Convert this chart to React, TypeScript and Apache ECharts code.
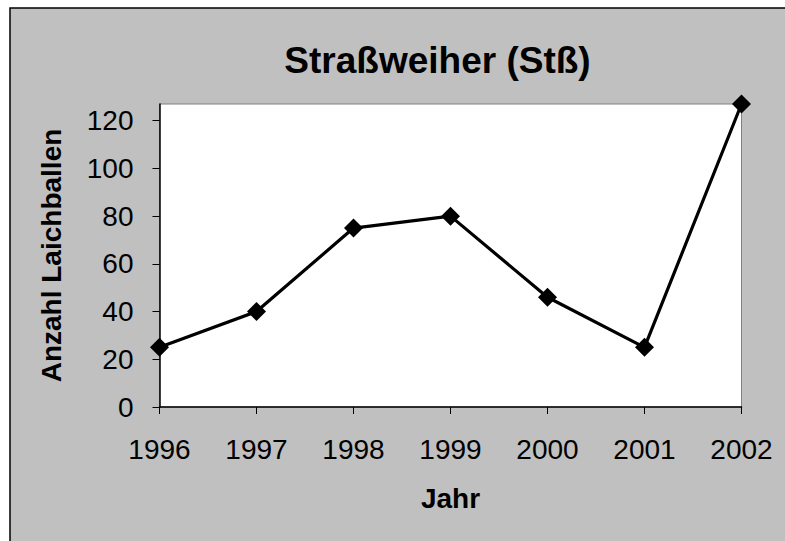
import React, { useEffect, useRef } from "react";
import * as echarts from "echarts";

const years = ["1996", "1997", "1998", "1999", "2000", "2001", "2002"];
const laichballen = [25, 40, 75, 80, 46, 25, 127];
const yTicks = [0, 20, 40, 60, 80, 100, 120];
const title = "Straßweiher (Stß)";
const xName = "Jahr";
const yName = "Anzahl Laichballen";

const FONT = "'Liberation Sans', Arial, sans-serif";

export default function App() {
  const ref = useRef<HTMLDivElement>(null);
  useEffect(() => {
    if (!ref.current) return;
    const chart = echarts.init(ref.current, null, { renderer: "svg" });
    chart.setOption({
      animation: false,
      backgroundColor: "#ffffff",
      graphic: [
        {
          type: "rect",
          z: -10,
          silent: true,
          shape: { x: 10, y: 8, width: 780, height: 540 },
          style: { fill: "#c0c0c0", stroke: "#000000", lineWidth: 1.5 },
        },
        {
          type: "text",
          x: 437.5,
          y: 60,
          style: {
            text: title,
            font: `bold 37px ${FONT}`,
            fill: "#000",
            textAlign: "center",
            textVerticalAlign: "middle",
          },
        },
      ],
      grid: {
        left: 159.5,
        right: 43.5,
        top: 104,
        bottom: 134,
        show: true,
        backgroundColor: "#ffffff",
        borderColor: "#808080",
        borderWidth: 1,
      },
      xAxis: {
        type: "category",
        data: years,
        boundaryGap: false,
        name: xName,
        nameLocation: "middle",
        nameGap: 77,
        nameTextStyle: { fontFamily: FONT, fontWeight: "bold", fontSize: 28, color: "#000" },
        axisLine: { lineStyle: { color: "#000", width: 1.5 } },
        axisTick: { show: true, length: 7, inside: false, lineStyle: { color: "#000" } },
        axisLabel: { fontFamily: FONT, fontSize: 28, color: "#000", margin: 28 },
        splitLine: { show: false },
      },
      yAxis: {
        type: "value",
        min: 0,
        max: 127,
        interval: 20,
        name: yName,
        nameLocation: "middle",
        nameGap: 94,
        nameTextStyle: { fontFamily: FONT, fontWeight: "bold", fontSize: 28, color: "#000" },
        axisLine: { show: true, lineStyle: { color: "#000", width: 1.5 } },
        axisTick: { show: true, length: 7, lineStyle: { color: "#000" }, customValues: yTicks },
        axisLabel: { fontFamily: FONT, fontSize: 28, color: "#000", margin: 26, customValues: yTicks },
        splitLine: { show: false },
      },
      series: [
        {
          type: "line",
          data: laichballen,
          symbol: "diamond",
          symbolSize: 19,
          lineStyle: { color: "#000", width: 3.2 },
          itemStyle: { color: "#000" },
        },
      ],
    });
    return () => chart.dispose();
  }, []);
  return (
    <div
      ref={ref}
      style={{ position: "absolute", left: 0, top: 0, width: 785, height: 541 }}
    />
  );
}
